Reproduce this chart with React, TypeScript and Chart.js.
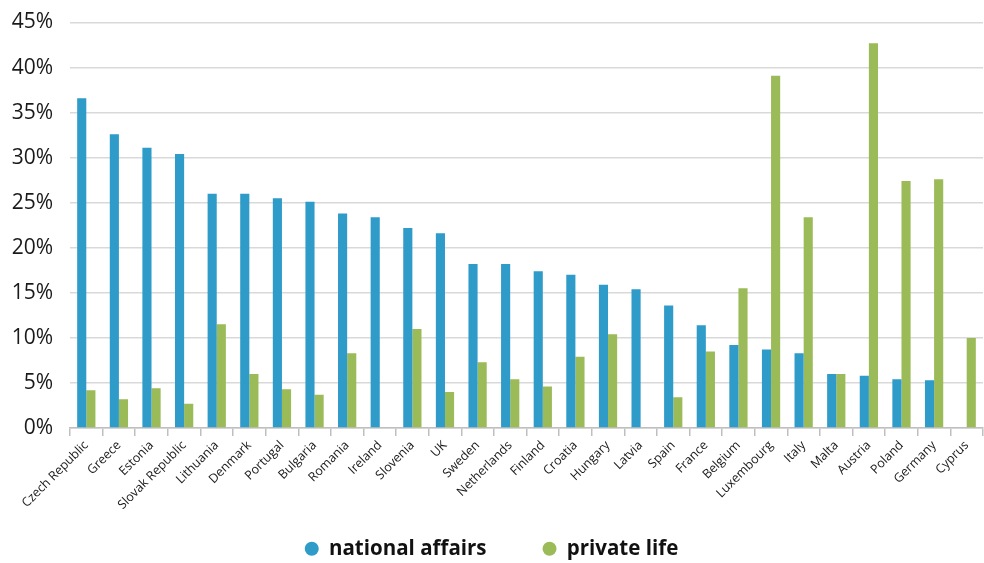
import React, { useEffect, useRef } from "react";
import { Chart, registerables } from "chart.js";

Chart.register(...registerables);

const countries = [
  "Czech Republic", "Greece", "Estonia", "Slovak Republic", "Lithuania", "Denmark",
  "Portugal", "Bulgaria", "Romania", "Ireland", "Slovenia", "UK", "Sweden",
  "Netherlands", "Finland", "Croatia", "Hungary", "Latvia", "Spain", "France",
  "Belgium", "Luxembourg", "Italy", "Malta", "Austria", "Poland", "Germany", "Cyprus",
];

const nationalAffairs = [
  36.6, 32.6, 31.1, 30.4, 26.0, 26.0, 25.5, 25.1, 23.8, 23.4, 22.2, 21.6, 18.2,
  18.2, 17.4, 17.0, 15.9, 15.4, 13.6, 11.4, 9.2, 8.7, 8.3, 6.0, 5.8, 5.4, 5.3, 0,
];

const privateLife = [
  4.2, 3.2, 4.4, 2.7, 11.5, 6.0, 4.3, 3.7, 8.3, 0, 11.0, 4.0, 7.3,
  5.4, 4.6, 7.9, 10.4, 0, 3.4, 8.5, 15.5, 39.1, 23.4, 6.0, 42.7, 27.4, 27.6, 10.0,
];

const yTicks = [0, 5, 10, 15, 20, 25, 30, 35, 40, 45];

const BLUE = "#2e9bc9";
const GREEN = "#9bbb59";
const FONT = "'Open Sans', sans-serif";

const widenLabelClip = {
  id: "widenLabelClip",
  afterLayout(chart: any) {
    const x = chart.scales.x;
    if (x) x.bottom = chart.height;
  },
};

export default function App() {
  const ref = useRef<HTMLCanvasElement | null>(null);

  useEffect(() => {
    document.body.style.margin = "0";
    const canvas = ref.current;
    if (!canvas) return;
    const chart = new Chart(canvas, {
      type: "bar",
      data: {
        labels: countries,
        datasets: [
          {
            label: "national affairs",
            data: nationalAffairs,
            backgroundColor: BLUE,
            borderWidth: 0,
            categoryPercentage: 0.56,
            barPercentage: 1,
          },
          {
            label: "private life",
            data: privateLife,
            backgroundColor: GREEN,
            borderWidth: 0,
            categoryPercentage: 0.56,
            barPercentage: 1,
          },
        ],
      },
      plugins: [widenLabelClip],
      options: {
        animation: false,
        responsive: false,
        maintainAspectRatio: false,
        layout: { padding: { top: 0, right: 1, left: 0, bottom: 0 } },
        plugins: {
          tooltip: { enabled: false },
          legend: {
            position: "bottom",
            labels: {
              usePointStyle: true,
              pointStyle: "circle",
              boxHeight: 10,
              pointStyleWidth: 14,
              padding: 56,
              color: "#111",
              font: { family: FONT, size: 20.5, weight: "bold" },
            },
          },
        },
        scales: {
          x: {
            offset: true,
            afterFit: (scale: any) => {
              scale.height = 54.5;
            },
            grid: {
              offset: true,
              drawOnChartArea: false,
              drawTicks: true,
              tickLength: 8,
              color: "#bfbfbf",
              lineWidth: 1.5,
            },
            border: { display: true, color: "#bfbfbf", width: 1.5 },
            ticks: {
              autoSkip: false,
              maxRotation: 45,
              minRotation: 45,
              padding: 2,
              color: "#1a1a1a",
              font: { family: FONT, size: 12.5 },
            },
          },
          y: {
            min: 0,
            max: 45,
            afterFit: (scale: any) => {
              scale.width = 70;
              scale.paddingTop = 22.5;
            },
            afterBuildTicks: (scale: any) => {
              scale.ticks = yTicks.map((v) => ({ value: v }));
            },
            grid: {
              drawTicks: false,
              color: "#d9d9d9",
              lineWidth: 1.5,
            },
            border: { display: false },
            ticks: {
              padding: 17,
              color: "#1a1a1a",
              font: { family: FONT, size: 21 },
              callback: (v: any) => `${v}%`,
            },
          },
        },
      },
    });
    return () => chart.destroy();
  }, []);

  return (
    <div style={{ position: "absolute", left: 0, top: 0, width: 984, height: 569 }}>
      <canvas ref={ref} width={984} height={569} style={{ display: "block" }} />
    </div>
  );
}
